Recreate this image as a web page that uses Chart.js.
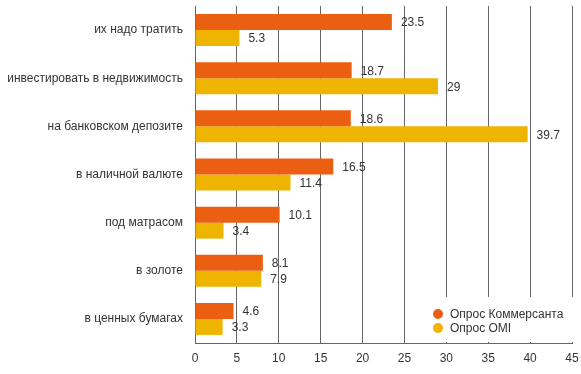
<!DOCTYPE html>
<html lang="ru">
<head>
<meta charset="UTF-8">
<title>Опросы</title>
<script src="https://cdn.jsdelivr.net/npm/chart.js"></script>
<style>
  html, body { margin: 0; padding: 0; background: #fff; }
  #wrap { width: 581px; height: 374px; }
</style>
</head>
<body>
<div id="wrap"><canvas id="chart"></canvas></div>
<script>
const categories = [
    "их надо тратить",
    "инвестировать в недвижимость",
    "на банковском депозите",
    "в наличной валюте",
    "под матрасом",
    "в золоте",
    "в ценных бумагах"
];
const kommersant = [23.5, 18.7, 18.6, 16.5, 10.1, 8.1, 4.6];
const omi = [5.3, 29, 39.7, 11.4, 3.4, 7.9, 3.3];
const seriesNames = ["Опрос Коммерсанта", "Опрос OMI"];
const xTicks = [0, 5, 10, 15, 20, 25, 30, 35, 40, 45];

const FONT = "'Liberation Sans', Arial, sans-serif";
const colors = ["#EB5F12", "#EEB400"];

// подписи значений справа от столбиков
const valueLabels = {
    id: "valueLabels",
    afterDatasetsDraw(chart) {
        const ctx = chart.ctx;
        ctx.save();
        ctx.font = "12px " + FONT;
        ctx.fillStyle = "#333";
        ctx.textBaseline = "middle";
        ctx.textAlign = "left";
        chart.data.datasets.forEach((ds, i) => {
            chart.getDatasetMeta(i).data.forEach((bar, j) => {
                ctx.fillText(String(ds.data[j]), bar.x + 9, bar.y + 1);
            });
        });
        ctx.restore();
    }
};

// легенда внутри области графика, справа внизу
const cornerLegend = {
    id: "cornerLegend",
    afterDraw(chart) {
        const ctx = chart.ctx;
        const a = chart.chartArea;
        ctx.save();
        ctx.fillStyle = "#fff";
        ctx.fillRect(410, a.bottom - 46, chart.width - 410, 45);
        ctx.font = "12px " + FONT;
        ctx.textBaseline = "middle";
        chart.data.datasets.forEach((ds, i) => {
            const y = a.bottom - 29 + i * 14;
            ctx.fillStyle = ds.backgroundColor;
            ctx.beginPath();
            ctx.arc(438, y, 5, 0, Math.PI * 2);
            ctx.fill();
            ctx.fillStyle = "#333";
            ctx.fillText(ds.label, 450, y + 1);
        });
        ctx.restore();
    }
};

new Chart(document.getElementById("chart"), {
    type: "bar",
    data: {
        labels: categories,
        datasets: [
            { label: seriesNames[0], data: kommersant, backgroundColor: colors[0] },
            { label: seriesNames[1], data: omi, backgroundColor: colors[1] }
        ]
    },
    options: {
        indexAxis: "y",
        responsive: true,
        maintainAspectRatio: false,
        animation: false,
        datasets: { bar: { categoryPercentage: 0.665, barPercentage: 1 } },
        layout: { padding: { top: 6, right: 9, left: 0, bottom: 0 } },
        plugins: { legend: { display: false }, tooltip: { enabled: false } },
        scales: {
            x: {
                min: 0, max: 45,
                afterBuildTicks(scale) { scale.ticks = xTicks.map(v => ({ value: v })); },
                afterFit(scale) {
                    scale.height = 31;
                    scale.paddingLeft = 0; scale.paddingRight = 0;
                    scale.paddingTop = 0; scale.paddingBottom = 0;
                },
                grid: { color: "#666", drawTicks: false },
                border: { display: true, color: "#666" },
                ticks: { padding: 8, color: "#333", font: { family: FONT, size: 12 } }
            },
            y: {
                afterFit(scale) {
                    scale.width = 195;
                    scale.paddingLeft = 0; scale.paddingRight = 0;
                    scale.paddingTop = 0; scale.paddingBottom = 0;
                },
                grid: { display: false, drawTicks: false },
                border: { display: true, color: "#666" },
                ticks: { padding: 12, color: "#333", font: { family: FONT, size: 12 } }
            }
        }
    },
    plugins: [valueLabels, cornerLegend]
});
</script>
</body>
</html>
